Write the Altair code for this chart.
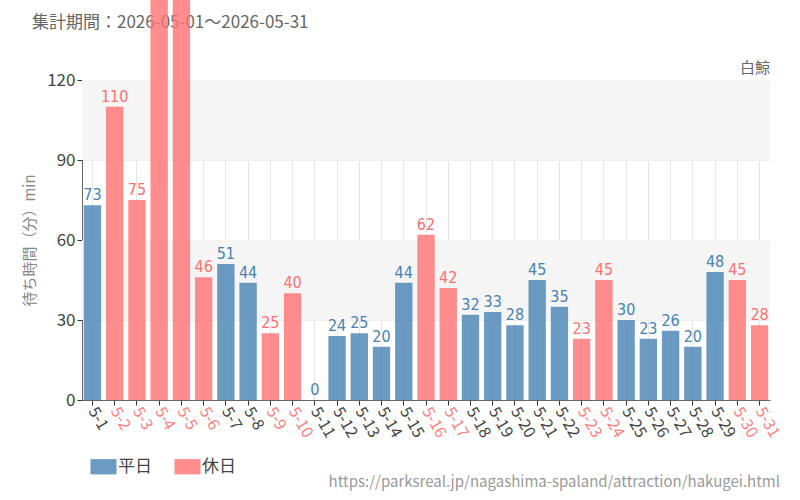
import altair as alt
import pandas as pd

dates = [f"5-{d}" for d in range(1, 32)]
values = [73, 110, 75, 165, 160, 46, 51, 44, 25, 40, 0, 24, 25, 20, 44, 62, 42,
          32, 33, 28, 45, 35, 23, 45, 30, 23, 26, 20, 48, 45, 28]
holidays = ["5-2", "5-3", "5-4", "5-5", "5-6", "5-9", "5-10", "5-16", "5-17",
            "5-23", "5-24", "5-30", "5-31"]
kinds = ["休日" if d in holidays else "平日" for d in dates]

df = pd.DataFrame({"date": dates, "value": values, "kind": kinds})
bands = pd.DataFrame({"y": [90, 30], "y2": [120, 60]})

FONT = "Noto Sans CJK JP"
NUMFONT = "DejaVu Sans Condensed, Roboto Condensed, Liberation Sans Narrow, Roboto"
xenc = alt.X("date:N", sort=dates,
             scale=alt.Scale(paddingInner=0.22, paddingOuter=0.08),
             axis=alt.Axis(title=None, labelAngle=60, labelAlign="left",
                           labelBaseline="middle", labelFontSize=16, labelFont=FONT,
                           bandPosition=0.5,
                           labelColor={"condition": {"test": f"indexof({holidays}, datum.value) >= 0",
                                                     "value": "#ff8080"},
                                       "value": "#444444"},
                           grid=True, gridColor="#e6e6e6", domainColor="#666666",
                           tickColor="#333333", tickSize=5, labelPadding=3))
yscale = alt.Scale(domain=[0, 120], nice=False)
yaxis = alt.Axis(values=[0, 30, 60, 90, 120], title="待ち時間（分）min",
                 titleColor="#888888", titleFontSize=15, titleFont=FONT,
                 titleFontWeight="normal", titlePadding=9,
                 labelFontSize=17, labelColor="#444444", labelFont=FONT,
                 grid=True, gridColor="#eeeeee", domainColor="#666666",
                 tickColor="#333333", tickSize=5)

color = alt.Color("kind:N", scale=alt.Scale(domain=["平日", "休日"],
                                            range=["#4682b4", "#ff7070"]),
                  legend=alt.Legend(title=None, orient="none", legendX=13, legendY=378,
                                    direction="horizontal", labelFontSize=17,
                                    labelFont=FONT, labelColor="#444444",
                                    symbolType="M-1.7,-1L1.7,-1L1.7,1L-1.7,1Z",
                                    symbolSize=234, symbolOpacity=0.8,
                                    symbolStrokeWidth=0, columnPadding=22,
                                    labelOffset=6))

bg = alt.Chart(bands).mark_rect(color="#f5f5f5").encode(
    y=alt.Y("y:Q", scale=yscale, axis=yaxis), y2="y2:Q")

bars = alt.Chart(df).mark_bar(opacity=0.8, clip=False).encode(
    x=xenc, y=alt.Y("value:Q", scale=yscale), color=color)

labels = alt.Chart(df).transform_filter("datum.value <= 120").mark_text(
    dy=-10, fontSize=16, font=NUMFONT).encode(
    x=alt.X("date:N", sort=dates), y=alt.Y("value:Q", scale=yscale),
    text="value:Q", color=alt.Color("kind:N"))

tag = alt.Chart(pd.DataFrame({"t": ["白鯨"]})).mark_text(
    align="right", baseline="middle", fontSize=15, font=FONT, color="#666666").encode(
    text="t:N", x=alt.value(688), y=alt.value(-12))

title = alt.Chart(pd.DataFrame({"t": ["集計期間：2026-05-01～2026-05-31"]})).mark_text(
    align="left", baseline="middle", fontSize=17, font=FONT, color="#666666").encode(
    text="t:N", x=alt.value(-50), y=alt.value(-57))

src = alt.Chart(pd.DataFrame({"t": ["https://parksreal.jp/nagashima-spaland/attraction/hakugei.html"]})).mark_text(
    align="right", baseline="middle", fontSize=15, font=FONT, color="#999999").encode(
    text="t:N", x=alt.value(698), y=alt.value(402))

chart = alt.layer(title, bg, bars, labels, tag, src).properties(
    width=688, height=320,
    autosize=alt.AutoSizeParams(type="none"),
    padding={"left": 82, "top": 80, "right": 30, "bottom": 100},
).configure_view(stroke=None)

chart.save("out.html", embed_options={"renderer": "svg", "actions": False})
